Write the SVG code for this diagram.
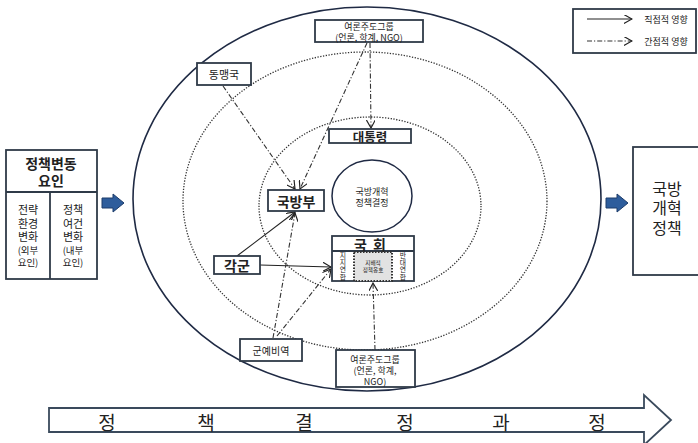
<svg xmlns="http://www.w3.org/2000/svg" width="698" height="443" viewBox="0 0 698 443">
<style>
text{font-family:"Noto Sans CJK KR","Noto Sans",sans-serif;fill:#222;text-anchor:middle;dominant-baseline:central}
.box{fill:#fff;stroke:#2f3a48;stroke-width:1.8}
.dir{fill:none;stroke:#222;stroke-width:1.1}
.ind{fill:none;stroke:#333;stroke-width:1.1;stroke-dasharray:5 2 1.2 2}
.dot{fill:none;stroke:#333;stroke-width:1.3;stroke-dasharray:1.3 1.5}
.blue{fill:#2e5d9c;stroke:#1d3c6a;stroke-width:1}
.v{font-size:6.8px;writing-mode:vertical-rl;text-orientation:upright;letter-spacing:0.3px}
</style>
<defs>
<marker id="ah" viewBox="0 0 10 10" refX="9" refY="5" markerWidth="9" markerHeight="9" orient="auto" markerUnits="userSpaceOnUse">
<path d="M0,0 L9,5 L0,10" fill="none" stroke="#222" stroke-width="1.3"/>
</marker>
</defs>
<rect width="698" height="443" fill="#fff"/>
<g id="rings">
<ellipse cx="367" cy="199" rx="234" ry="192" fill="none" stroke="#1f2a44" stroke-width="1.6"/>
<ellipse cx="365" cy="201" rx="182" ry="149" class="dot"/>
<ellipse cx="370" cy="206" rx="111" ry="89" class="dot"/>
</g>
<g id="connectors">
<line x1="223" y1="86" x2="295" y2="189" class="ind" marker-end="url(#ah)"/>
<line x1="367" y1="43" x2="300" y2="189" class="ind" marker-end="url(#ah)"/>
<line x1="370" y1="43" x2="371" y2="128" class="ind" marker-end="url(#ah)"/>
<line x1="237" y1="256" x2="295" y2="212" class="dir" marker-end="url(#ah)"/>
<line x1="260" y1="265" x2="331" y2="267" class="dir" marker-end="url(#ah)"/>
<line x1="273" y1="338" x2="295" y2="213" class="ind" marker-end="url(#ah)"/>
<line x1="277" y1="336" x2="331" y2="269" class="ind" marker-end="url(#ah)"/>
<line x1="375" y1="350" x2="373" y2="283" class="ind" marker-end="url(#ah)"/>
</g>
<g id="center">
<ellipse cx="372" cy="196" rx="40" ry="36" fill="#fff" stroke="#1f2a44" stroke-width="1.5"/>
<text font-size="9"><tspan x="372" y="191">국방개혁</tspan><tspan x="372" y="202">정책결정</tspan></text>
</g>
<g id="opinion-top">
<rect x="315" y="20" width="108" height="22" class="box"/>
<text font-size="9"><tspan x="369" y="26">여론주도그룹</tspan><tspan x="369" y="37">(언론, 학계, NGO)</tspan></text>
</g>
<g id="ally">
<rect x="197" y="63" width="54" height="22" class="box"/>
<text x="224" y="74" font-size="11">동맹국</text>
</g>
<g id="president">
<rect x="329" y="129" width="82" height="14" class="box"/>
<text x="370" y="136" font-size="12.5" font-weight="bold">대통령</text>
</g>
<g id="mnd">
<rect x="268" y="190" width="56" height="21" class="box"/>
<text x="296" y="201" font-size="14" font-weight="bold">국방부</text>
</g>
<g id="assembly">
<rect x="332" y="236" width="82" height="45" class="box"/>
<line x1="332" y1="251" x2="414" y2="251" stroke="#2f3a48" stroke-width="1.8"/>
<text x="373" y="244" font-size="14" font-weight="bold" letter-spacing="6">국회</text>
<rect x="354" y="252" width="38" height="29" fill="#e2e2e2" stroke="#333" stroke-width="2" stroke-dasharray="1.5 1.5"/>
<text font-size="5.6"><tspan x="373" y="262.5">지배적</tspan><tspan x="373" y="270">정책옹호</tspan></text>
<text class="v" x="343" y="266.5">지지연합</text>
<text class="v" x="403" y="266.5">반대연합</text>
</g>
<g id="army">
<rect x="214" y="256" width="46" height="18" class="box"/>
<text x="237" y="265" font-size="14" font-weight="bold">각군</text>
</g>
<g id="veterans">
<rect x="240" y="339" width="62" height="22" class="box"/>
<text x="271" y="350" font-size="10">군예비역</text>
</g>
<g id="opinion-bottom">
<rect x="336" y="350" width="79" height="37" class="box"/>
<text font-size="9"><tspan x="375" y="359">여론주도그룹</tspan><tspan x="375" y="370">(언론, 학계,</tspan><tspan x="375" y="381">NGO)</tspan></text>
</g>
<g id="factors">
<rect x="6" y="150" width="91" height="129" class="box"/>
<line x1="6" y1="192" x2="97" y2="192" stroke="#2f3a48" stroke-width="1.8"/>
<line x1="50" y1="192" x2="50" y2="279" stroke="#2f3a48" stroke-width="1.8"/>
<text font-size="14" font-weight="bold"><tspan x="51" y="163">정책변동</tspan><tspan x="51" y="180">요인</tspan></text>
<text font-size="11"><tspan x="28" y="209">전략</tspan><tspan x="28" y="222.5">환경</tspan><tspan x="28" y="236">변화</tspan><tspan x="28" y="249.5" font-size="9.5">(외부</tspan><tspan x="28" y="262" font-size="9.5">요인)</tspan></text>
<text font-size="11"><tspan x="73" y="209">정책</tspan><tspan x="73" y="222.5">여건</tspan><tspan x="73" y="236">변화</tspan><tspan x="73" y="249.5" font-size="9.5">(내부</tspan><tspan x="73" y="262" font-size="9.5">요인)</tspan></text>
</g>
<g id="arrow-in">
<polygon points="102,198 113,198 113,194 124,203 113,212 113,208 102,208" class="blue"/>
</g>
<g id="arrow-out">
<polygon points="606,198 617,198 617,194 628,203 617,212 617,208 606,208" class="blue"/>
</g>
<g id="policy">
<rect x="633" y="147" width="70" height="128" class="box"/>
<text font-size="16"><tspan x="667" y="187.5">국방</tspan><tspan x="667" y="207">개혁</tspan><tspan x="667" y="226.5">정책</tspan></text>
</g>
<g id="legend">
<rect x="573" y="9" width="123" height="44" class="box"/>
<line x1="587" y1="19" x2="632" y2="19" class="dir" marker-end="url(#ah)"/>
<line x1="587" y1="41" x2="632" y2="41" class="ind" marker-end="url(#ah)"/>
<text x="666" y="19" font-size="9">직접적 영향</text>
<text x="666" y="41" font-size="9">간접적 영향</text>
</g>
<g id="process">
<polygon points="49,408 644,408 644,395 671,420 644,445 644,432 49,432" fill="#fff" stroke="#3a4a5c" stroke-width="1.8"/>
<g font-size="19">
<text x="107" y="421">정</text><text x="206" y="421">책</text><text x="304" y="421">결</text>
<text x="405" y="421">정</text><text x="501" y="421">과</text><text x="597" y="421">정</text>
</g>
</g>
</svg>
